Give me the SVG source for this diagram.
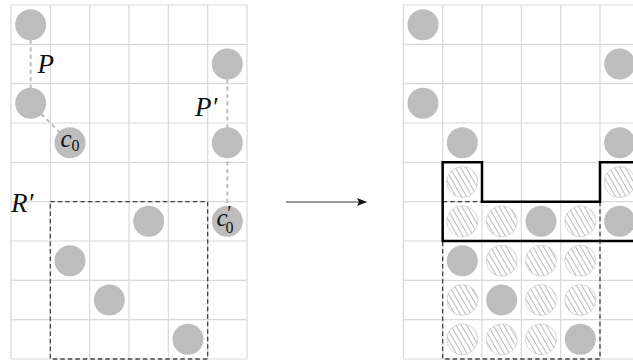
<svg xmlns="http://www.w3.org/2000/svg" width="633" height="360" viewBox="0 0 633 360">
<defs>
  <pattern id="hatch" patternUnits="userSpaceOnUse" width="4.6" height="10" patternTransform="rotate(-30)">
    <line x1="2.3" y1="0" x2="2.3" y2="10" stroke="#b8b8b8" stroke-width="1"/>
  </pattern>
  <marker id="arr" markerWidth="10" markerHeight="8" refX="9" refY="4" orient="auto" markerUnits="userSpaceOnUse">
    <path d="M0,0 L10,4 L0,8 L2,4 Z" fill="#111"/>
  </marker>
</defs>
<style>
  .grid{fill:none;stroke:#d9d9d9;stroke-width:1.2}
  .dot{fill:#bdbdbd}
  .hat{fill:url(#hatch);stroke:#cfcfcf;stroke-width:0.8}
  .hatbg{fill:#fff}
  .conn{stroke:#bdbdbd;stroke-width:2;stroke-dasharray:4 3.5;fill:none}
  .rect{fill:none;stroke:#444;stroke-width:1.3;stroke-dasharray:4.5 3}
  .lbl{font-family:"Liberation Serif","DejaVu Serif",serif;font-style:italic;fill:#111}
  .sub{font-style:normal}
  .thick{fill:none;stroke:#000;stroke-width:2.5}
</style>
<rect width="633" height="360" fill="#fff"/>

<g id="grid-left">
  <path class="grid" d="M11,5V359M50.33,5V359M89.67,5V359M129,5V359M168.33,5V359M207.67,5V359M247,5V359
  M11,5H247M11,44.33H247M11,83.67H247M11,123H247M11,162.33H247M11,201.67H247M11,241H247M11,280.33H247M11,319.67H247M11,359H247"/>
</g>
<g id="grid-right">
  <path class="grid" d="M403.33,5V359M442.67,5V359M482,5V359M521.33,5V359M560.67,5V359M600,5V359
  M403.33,5H640M403.33,44.33H640M403.33,83.67H640M403.33,123H640M403.33,162.33H640M403.33,201.67H640M403.33,241H640M403.33,280.33H640M403.33,319.67H640M403.33,359H640"/>
</g>

<g id="connectors">
  <line class="conn" x1="30.67" y1="24.67" x2="30.67" y2="103.33"/>
  <line class="conn" x1="30.67" y1="103.33" x2="70" y2="142.67"/>
  <line class="conn" x1="227.33" y1="64" x2="227.33" y2="221.33"/>
  <line x1="286" y1="202" x2="366" y2="202" stroke="#333" stroke-width="1.2" marker-end="url(#arr)"/>
</g>

<g id="region-R-left"><rect class="rect" x="50.33" y="201.67" width="157.33" height="157.33"/></g>
<g id="region-R-right"><rect class="rect" x="442.67" y="201.67" width="157.33" height="157.33"/></g>

<g id="L-0-0"><circle class="dot" cx="30.67" cy="24.67" r="15.5"/></g>
<g id="L-0-2"><circle class="dot" cx="30.67" cy="103.33" r="15.5"/></g>
<g id="L-c0"><circle class="dot" cx="70" cy="142.67" r="15.5"/>
  <text class="lbl" x="60.5" y="146.5" font-size="25">c<tspan class="sub" font-size="16" dy="4.5">0</tspan></text></g>
<g id="L-5-1"><circle class="dot" cx="227.33" cy="64" r="15.5"/></g>
<g id="L-5-3"><circle class="dot" cx="227.33" cy="142.67" r="15.5"/></g>
<g id="L-c0p"><circle class="dot" cx="227.33" cy="221.33" r="15.5"/>
  <text class="lbl" x="216.5" y="226" font-size="25">c<tspan font-size="20" dx="-1.5" dy="-6">′</tspan><tspan class="sub" font-size="16" dx="-5" dy="12.5">0</tspan></text></g>
<g id="L-3-5"><circle class="dot" cx="148.67" cy="221.33" r="15.5"/></g>
<g id="L-1-6"><circle class="dot" cx="70" cy="260.67" r="15.5"/></g>
<g id="L-2-7"><circle class="dot" cx="109.33" cy="300" r="15.5"/></g>
<g id="L-4-8"><circle class="dot" cx="188" cy="339.33" r="15.5"/></g>

<g id="labels">
  <text class="lbl" x="37.5" y="73" font-size="27">P</text>
  <text class="lbl" x="195" y="115.5" font-size="27">P′</text>
  <text class="lbl" x="11" y="212" font-size="27">R′</text>
</g>

<g id="R-0-0"><circle class="dot" cx="423" cy="24.67" r="15.5"/></g>
<g id="R-5-1"><circle class="dot" cx="619.67" cy="64" r="15.5"/></g>
<g id="R-0-2"><circle class="dot" cx="423" cy="103.33" r="15.5"/></g>
<g id="R-1-3"><circle class="dot" cx="462.33" cy="142.67" r="15.5"/></g>
<g id="R-5-3"><circle class="dot" cx="619.67" cy="142.67" r="15.5"/></g>
<g id="R-3-5"><circle class="dot" cx="541" cy="221.33" r="15.5"/></g>
<g id="R-5-5"><circle class="dot" cx="619.67" cy="221.33" r="15.5"/></g>
<g id="R-1-6"><circle class="dot" cx="462.33" cy="260.67" r="15.5"/></g>
<g id="R-2-7"><circle class="dot" cx="501.67" cy="300" r="15.5"/></g>
<g id="R-4-8"><circle class="dot" cx="580.33" cy="339.33" r="15.5"/></g>

<g id="H-1-4"><circle class="hatbg" cx="462.33" cy="182" r="15.5"/><circle class="hat" cx="462.33" cy="182" r="15.5"/></g>
<g id="H-5-4"><circle class="hatbg" cx="619.67" cy="182" r="15.5"/><circle class="hat" cx="619.67" cy="182" r="15.5"/></g>
<g id="H-1-5"><circle class="hatbg" cx="462.33" cy="221.33" r="15.5"/><circle class="hat" cx="462.33" cy="221.33" r="15.5"/></g>
<g id="H-2-5"><circle class="hatbg" cx="501.67" cy="221.33" r="15.5"/><circle class="hat" cx="501.67" cy="221.33" r="15.5"/></g>
<g id="H-4-5"><circle class="hatbg" cx="580.33" cy="221.33" r="15.5"/><circle class="hat" cx="580.33" cy="221.33" r="15.5"/></g>
<g id="H-2-6"><circle class="hatbg" cx="501.67" cy="260.67" r="15.5"/><circle class="hat" cx="501.67" cy="260.67" r="15.5"/></g>
<g id="H-3-6"><circle class="hatbg" cx="541" cy="260.67" r="15.5"/><circle class="hat" cx="541" cy="260.67" r="15.5"/></g>
<g id="H-4-6"><circle class="hatbg" cx="580.33" cy="260.67" r="15.5"/><circle class="hat" cx="580.33" cy="260.67" r="15.5"/></g>
<g id="H-1-7"><circle class="hatbg" cx="462.33" cy="300" r="15.5"/><circle class="hat" cx="462.33" cy="300" r="15.5"/></g>
<g id="H-3-7"><circle class="hatbg" cx="541" cy="300" r="15.5"/><circle class="hat" cx="541" cy="300" r="15.5"/></g>
<g id="H-4-7"><circle class="hatbg" cx="580.33" cy="300" r="15.5"/><circle class="hat" cx="580.33" cy="300" r="15.5"/></g>
<g id="H-1-8"><circle class="hatbg" cx="462.33" cy="339.33" r="15.5"/><circle class="hat" cx="462.33" cy="339.33" r="15.5"/></g>
<g id="H-2-8"><circle class="hatbg" cx="501.67" cy="339.33" r="15.5"/><circle class="hat" cx="501.67" cy="339.33" r="15.5"/></g>
<g id="H-3-8"><circle class="hatbg" cx="541" cy="339.33" r="15.5"/><circle class="hat" cx="541" cy="339.33" r="15.5"/></g>

<g id="outline">
  <path class="thick" d="M640,162.33H600V201.67H482V162.33H442.67V241H640"/>
</g>
</svg>
